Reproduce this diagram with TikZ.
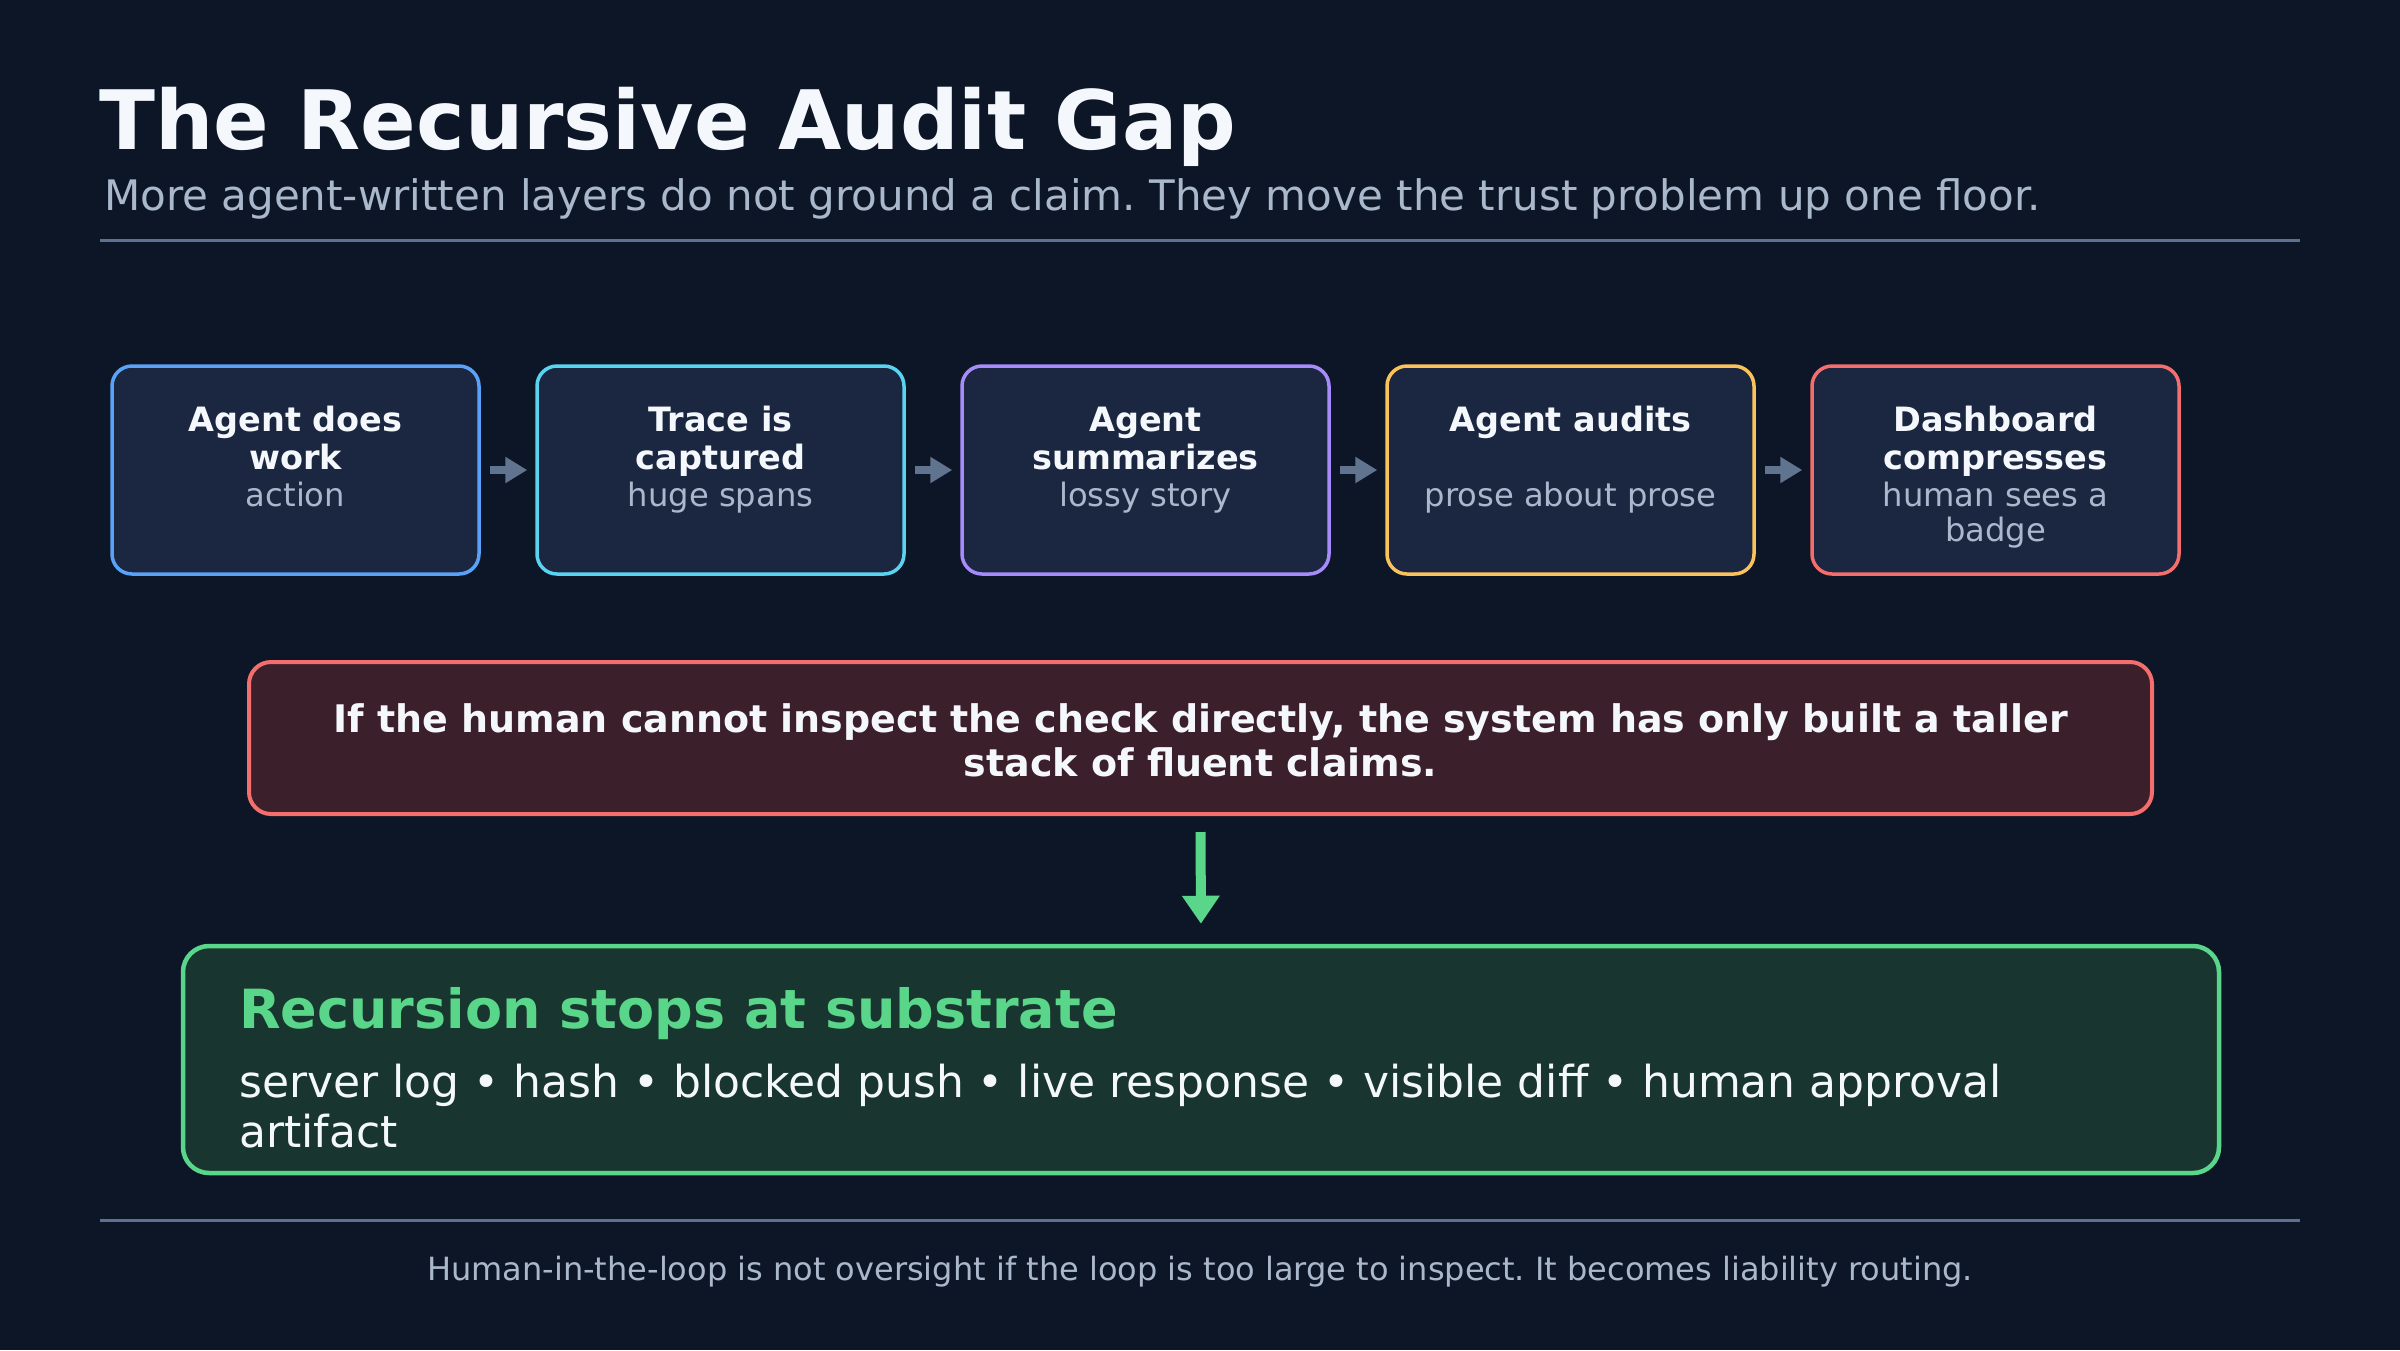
\documentclass[tikz,border=0pt]{standalone}
\usepackage{fontspec}
\setmainfont{DejaVu Sans}
\usetikzlibrary{arrows.meta}
\frenchspacing
\definecolor{bg}{HTML}{0D1626}
\definecolor{boxfill}{HTML}{1B2740}
\definecolor{cblue}{HTML}{5AA2F8}
\definecolor{ccyan}{HTML}{5AD3F0}
\definecolor{cpurple}{HTML}{A78BFA}
\definecolor{cyellow}{HTML}{F9C25A}
\definecolor{cred}{HTML}{F56E6E}
\definecolor{redfill}{HTML}{3B1F2A}
\definecolor{cgreen}{HTML}{5AD68A}
\definecolor{greenfill}{HTML}{18362F}
\definecolor{rulec}{HTML}{5F7190}
\definecolor{arrowc}{HTML}{60748F}
\definecolor{titlec}{HTML}{F4F7FB}
\definecolor{subc}{HTML}{AAB8CC}
\begin{document}
\begin{tikzpicture}[x=1pt,y=-1pt,
  stepbox/.style={draw, fill=boxfill, line width=3.5pt, rounded corners=20pt,
    minimum width=367pt, minimum height=208pt, inner sep=0pt},
  boxtitle/.style={anchor=base, inner sep=0pt, text=titlec,
    font=\fontsize{33.5}{40}\selectfont\bfseries},
  boxsub/.style={anchor=base, inner sep=0pt, text=subc,
    font=\fontsize{32.2}{38}\selectfont},
  flowarrow/.style={draw=arrowc, line width=7.5pt, shorten <=9pt, shorten >=8pt,
    -{Triangle[length=22pt,width=25pt]}},
  rule/.style={draw=rulec, line width=3pt},
]
\fill[bg] (0,0) rectangle (2400,1350);
\useasboundingbox (0,0) rectangle (2400,1350);

% title
\node[anchor=base west, inner sep=0pt, text=titlec, font=\fontsize{82}{98}\selectfont\bfseries] (title) at (99,149) {The Recursive Audit Gap};
\node[anchor=base west, inner sep=0pt, text=subc, font=\fontsize{42}{48}\selectfont] (subtitle) at (104,210) {More agent-written layers do not ground a claim. They move the trust problem up one floor.};
\coordinate (r1a) at (100,240);
\coordinate (r1b) at (2300,240);
\draw[rule] (r1a) -- (r1b);

% step boxes
\node[stepbox, draw=cblue]   (b1) at (295.5,470) {};
\node[stepbox, draw=ccyan]   (b2) at (720.5,470) {};
\node[stepbox, draw=cpurple] (b3) at (1145.5,470) {};
\node[stepbox, draw=cyellow] (b4) at (1570.5,470) {};
\node[stepbox, draw=cred]    (b5) at (1995.5,470) {};

\node[boxtitle] (b1t1) at (295.5,431) {Agent does};
\node[boxtitle] (b1t2) at (295.5,469) {work};
\node[boxsub]   (b1s1) at (295.5,506) {action};

\node[boxtitle] (b2t1) at (720.5,431) {Trace is};
\node[boxtitle] (b2t2) at (720.5,469) {captured};
\node[boxsub]   (b2s1) at (720.5,506) {huge spans};

\node[boxtitle] (b3t1) at (1145.5,431) {Agent};
\node[boxtitle] (b3t2) at (1145.5,469) {summarizes};
\node[boxsub]   (b3s1) at (1145.5,506) {lossy story};

\node[boxtitle] (b4t1) at (1570.5,431) {Agent audits};
\node[boxsub]   (b4s1) at (1570.5,506) {prose about prose};

\node[boxtitle] (b5t1) at (1995.5,431) {Dashboard};
\node[boxtitle] (b5t2) at (1995.5,469) {compresses};
\node[boxsub]   (b5s1) at (1995.5,506) {human sees a};
\node[boxsub]   (b5s2) at (1995.5,541) {badge};

\draw[flowarrow] (b1.east) -- (b2.west);
\draw[flowarrow] (b2.east) -- (b3.west);
\draw[flowarrow] (b3.east) -- (b4.west);
\draw[flowarrow] (b4.east) -- (b5.west);

% callout
\node[draw=cred, fill=redfill, line width=4pt, rounded corners=22pt,
  minimum width=1903pt, minimum height=152pt, inner sep=0pt] (warn) at (1200.5,738) {};
\node[anchor=base, inner sep=0pt, text=titlec, font=\fontsize{38}{44}\selectfont\bfseries] (warn1) at (1200.5,732) {If the human cannot inspect the check directly, the system has only built a taller};
\node[anchor=base, inner sep=0pt, text=titlec, font=\fontsize{38}{44}\selectfont\bfseries] (warn2) at (1200.5,776) {stack of fluent claims.};

% substrate box
\node[draw=cgreen, fill=greenfill, line width=4.5pt, rounded corners=26pt,
  minimum width=2036pt, minimum height=227pt, inner sep=0pt] (sub) at (1201,1059.5) {};
\node[anchor=base west, inner sep=0pt, text=cgreen, font=\fontsize{54}{64}\selectfont\bfseries] (subt) at (239,1028) {Recursion stops at substrate};
\node[anchor=base west, inner sep=0pt, text=titlec, font=\fontsize{44}{50}\selectfont] (subl1) at (239,1097) {server log • hash • blocked push • live response • visible diff • human approval};
\node[anchor=base west, inner sep=0pt, text=titlec, font=\fontsize{44}{50}\selectfont] (subl2) at (239,1147) {artifact};

\draw[draw=cgreen, line width=10pt, shorten <=16pt, shorten >=20pt,
  -{Triangle[length=28pt,width=36pt]}] (warn.south) -- (sub.north);

% footer
\coordinate (r2a) at (100,1220);
\coordinate (r2b) at (2300,1220);
\draw[rule] (r2a) -- (r2b);
\node[anchor=base, inner sep=0pt, text=subc, font=\fontsize{32}{38}\selectfont] (foot) at (1200,1280) {Human-in-the-loop is not oversight if the loop is too large to inspect. It becomes liability routing.};
\end{tikzpicture}
\end{document}
